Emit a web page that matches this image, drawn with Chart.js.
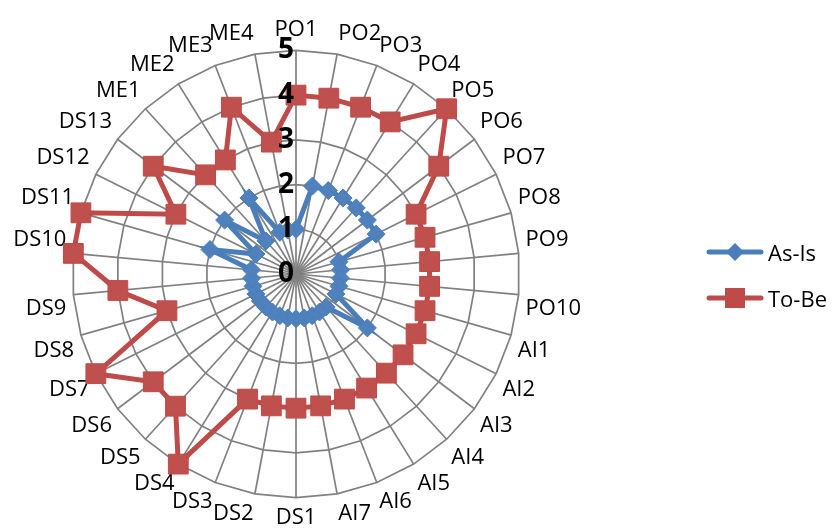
<!DOCTYPE html>
<html>
<head>
<meta charset="utf-8">
<script src="https://cdn.jsdelivr.net/npm/chart.js@4.4.1/dist/chart.umd.min.js"></script>
<style>
  html, body { margin: 0; padding: 0; background: #fff; }
  #wrap { position: relative; width: 832px; height: 532px; }
  #legend { position: absolute; left: 706px; top: 238px; font: 22px "Open Sans", "Liberation Sans", sans-serif; color: #000; }
  #legend .item { display: flex; align-items: center; height: 28px; margin-bottom: 18px; }
  #legend canvas { margin-right: 4px; }
</style>
</head>
<body>
<div id="wrap">
  <canvas id="myChart" width="832" height="532"></canvas>
  <div id="legend"></div>
</div>
<script>
/* COBIT processes, clockwise from the top */
var categories = ['PO1', 'PO2', 'PO3', 'PO4', 'PO5', 'PO6', 'PO7', 'PO8', 'PO9', 'PO10',
                  'AI1', 'AI2', 'AI3', 'AI4', 'AI5', 'AI6', 'AI7',
                  'DS1', 'DS2', 'DS3', 'DS4', 'DS5', 'DS6', 'DS7', 'DS8', 'DS9', 'DS10',
                  'DS11', 'DS12', 'DS13',
                  'ME1', 'ME2', 'ME3', 'ME4'];
var asIs = [1, 2, 2, 2, 2, 2, 2, 1, 1, 1,
            1, 1, 2, 1, 1, 1, 1,
            1, 1, 1, 1, 1, 1, 1, 1, 1, 1,
            2, 1, 2,
            1, 2, 1, 1];
var toBe = [4, 4, 4, 4, 5, 4, 3, 3, 3, 3,
            3, 3, 3, 3, 3, 3, 3,
            3, 3, 3, 5, 4, 4, 5, 3, 4, 5,
            5, 3, 4,
            3, 3, 4, 3];
var tickLabels = [0, 1, 2, 3, 4, 5];

var blue = '#4A7EBB';
var red = '#BE4B48';
var gridGray = '#808080';
var fontFamily = '"Open Sans", "Liberation Sans", sans-serif';

/* little line + marker pictures for the legend */
function legendIcon(color, shape) {
    var c = document.createElement('canvas');
    c.width = 58;
    c.height = 22;
    var g = c.getContext('2d');
    g.strokeStyle = color;
    g.lineWidth = 5;
    g.lineCap = 'round';
    g.beginPath();
    g.moveTo(3, 11);
    g.lineTo(55, 11);
    g.stroke();
    g.fillStyle = color;
    if (shape === 'diamond') {
        g.beginPath();
        g.moveTo(29, 2);
        g.lineTo(38, 11);
        g.lineTo(29, 20);
        g.lineTo(20, 11);
        g.closePath();
        g.fill();
    } else {
        g.fillRect(19, 1, 20, 20);
    }
    return c;
}

/* big bold value labels, slightly left of the PO1 spoke, including 0 */
var tickPlugin = {
    id: 'bigTicks',
    afterDatasetsDraw: function (chart) {
        var r = chart.scales.r;
        var ctx = chart.ctx;
        ctx.save();
        ctx.font = 'bold 28px ' + fontFamily;
        ctx.fillStyle = '#000';
        ctx.textAlign = 'center';
        ctx.textBaseline = 'middle';
        tickLabels.forEach(function (t) {
            var d = r.getDistanceFromCenterForValue(t);
            ctx.fillText(String(t), r.xCenter - 10, r.yCenter - d);
        });
        ctx.restore();
    }
};

var ctx = document.getElementById('myChart');
var chart = new Chart(ctx, {
    type: 'radar',
    data: {
        labels: categories,
        datasets: [{
            label: 'As-Is',
            data: asIs,
            borderColor: blue,
            backgroundColor: blue,
            borderWidth: 5,
            fill: false,
            pointStyle: 'rectRot',
            pointRadius: 9,
            pointBackgroundColor: '#4F81BD',
            pointBorderColor: blue,
            pointBorderWidth: 1
        }, {
            label: 'To-Be',
            data: toBe,
            borderColor: red,
            backgroundColor: red,
            borderWidth: 5,
            fill: false,
            pointStyle: 'rect',
            pointRadius: 14,
            pointBackgroundColor: '#C0504D',
            pointBorderColor: red,
            pointBorderWidth: 1
        }]
    },
    options: {
        responsive: false,
        animation: false,
        devicePixelRatio: 1,
        layout: {
            padding: { top: 17, right: 236, bottom: 0, left: 0 }
        },
        plugins: {
            tooltip: { enabled: false },
            legend: { display: false }
        },
        scales: {
            r: {
                min: 0,
                max: 5,
                ticks: { stepSize: 1, display: false },
                grid: { color: gridGray, lineWidth: 1.7 },
                angleLines: { color: gridGray, lineWidth: 1.7 },
                pointLabels: {
                    color: '#000',
                    padding: 7,
                    font: { size: 22, family: fontFamily }
                }
            }
        }
    },
    plugins: [tickPlugin]
});

/* legend as html, one row per series */
var legendBox = document.getElementById('legend');
chart.data.datasets.forEach(function (ds, i) {
    var row = document.createElement('div');
    row.className = 'item';
    row.appendChild(legendIcon(ds.borderColor, i === 0 ? 'diamond' : 'square'));
    var span = document.createElement('span');
    span.textContent = ds.label;
    row.appendChild(span);
    legendBox.appendChild(row);
});
</script>
</body>
</html>
